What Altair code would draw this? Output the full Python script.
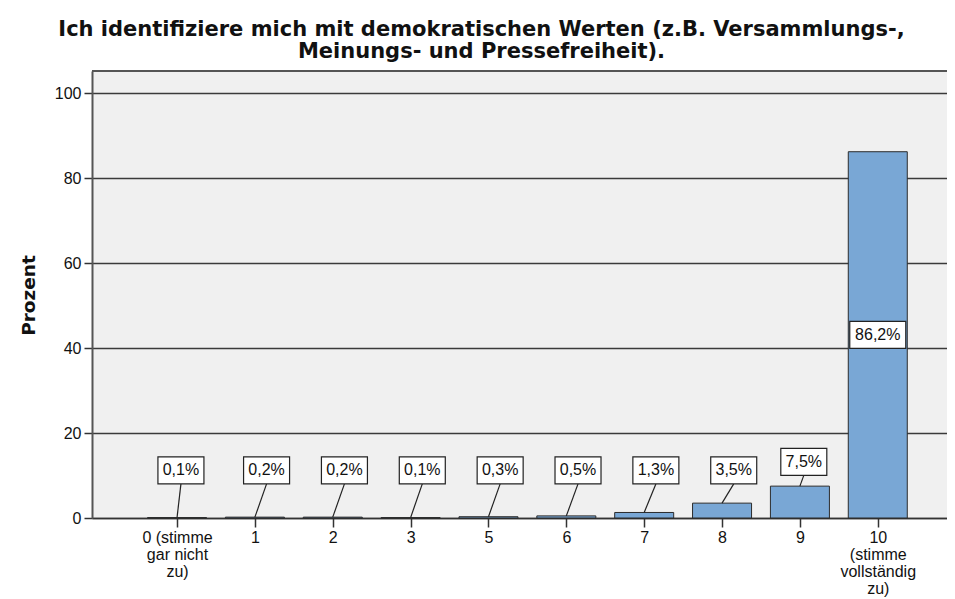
import altair as alt
import pandas as pd

# ---- data ----
categories = ["0 (stimme gar nicht zu)", "1", "2", "3", "5", "6", "7", "8", "9",
              "10 (stimme vollständig zu)"]
axis_label_lines = [["0 (stimme", "gar nicht", "zu)"], ["1"], ["2"], ["3"], ["5"], ["6"],
                    ["7"], ["8"], ["9"], ["10", "(stimme", "vollständig", "zu)"]]
percent = [0.1, 0.2, 0.2, 0.1, 0.3, 0.5, 1.3, 3.5, 7.5, 86.2]
y_ticks = [0, 20, 40, 60, 80, 100]
title_lines = ["Ich identifiziere mich mit demokratischen Werten (z.B. Versammlungs-,",
               "Meinungs- und Pressefreiheit)."]

# ---- table ----
df = pd.DataFrame({"idx": list(range(len(categories))), "cat": categories, "pct": percent})
df["label"] = [f"{v:.1f}".replace(".", ",") + "%" for v in percent]
df["inside"] = df["pct"] > 50
# label placement (SPSS style callouts): inside big bar, above small ones
df["ly"] = [v / 2 if v > 50 else max(11.2, v + 5.7) for v in percent]
df["lx"] = [i + (0.0 if v > 50 else (0.05 if (i == 0 or v > 5) else 0.15))
            for i, v in zip(df["idx"], percent)]
df["nchar"] = df["label"].str.len()

FONT = "Liberation Sans"
BOLD_FONT = "DejaVu Sans"
label_expr = "split([" + ",".join("'" + "|".join(l) + "'" for l in axis_label_lines) + "][datum.value], '|')"

PLOT_W, PLOT_H = 855, 447
xs = alt.Scale(domain=[-1.028, 9.825], nice=False, zero=False)
ys = alt.Scale(domain=[0, 105.2], nice=False, zero=True)

x_axis = alt.Axis(
    values=list(range(len(categories))), labelExpr=label_expr, title=None, grid=False,
    tickSize=9, tickColor="#333", tickWidth=1.5, domainColor="#333", domainWidth=1.5,
    labelFontSize=16, labelFont=FONT, labelColor="#111", labelPadding=2,
    labelLineHeight=17, labelAngle=0, labelOverlap=False, labelFlush=False,
    labelBound=False)
y_axis = alt.Axis(
    values=y_ticks, title="Prozent", titleFont=BOLD_FONT, titleFontSize=18.5,
    titleFontWeight="bold", titleColor="#111", titleX=-64, titleY=224,
    titleAngle=-90, titleBaseline="middle", titleAlign="center",
    grid=True, gridColor="#3a3a3a", gridWidth=1.5,
    tickSize=8, tickColor="#333", tickWidth=1.5, domainColor="#555", domainWidth=2,
    labelFontSize=16, labelFont=FONT, labelColor="#111", labelPadding=3)

base = alt.Chart(df)

frame_top = base.mark_rule(color="#555", strokeWidth=2).encode(
    x=alt.value(0), x2=alt.value(PLOT_W), y=alt.value(0))

bars = base.mark_bar(width=59, orient="vertical", fill="#79a7d5", stroke="#2b2b2b",
                     strokeWidth=1).encode(
    x=alt.X("idx:Q", scale=xs, axis=x_axis),
    y=alt.Y("pct:Q", scale=ys, axis=y_axis),
    y2=alt.datum(0),
)

callouts = base.transform_filter("!datum.inside")

leaders = callouts.mark_rule(color="#222", strokeWidth=1.2, y2Offset=13.5).encode(
    x=alt.X("idx:Q", scale=xs, axis=x_axis),
    y=alt.Y("pct:Q", scale=ys, axis=y_axis),
    x2="lx:Q",
    y2="ly:Q",
)

def boxes(n, half):
    return base.transform_filter(f"datum.nchar == {n}").mark_rect(
        fill="white", stroke="#222", strokeWidth=1.2,
        xOffset=-half, x2Offset=half, yOffset=-13.5, y2Offset=13.5).encode(
        x=alt.X("lx:Q", scale=xs, axis=x_axis),
        x2="lx:Q",
        y=alt.Y("ly:Q", scale=ys, axis=y_axis),
        y2="ly:Q",
    )

texts = base.mark_text(font=FONT, fontSize=16, color="#111", baseline="middle",
                       align="center").encode(
    x=alt.X("lx:Q", scale=xs, axis=x_axis),
    y=alt.Y("ly:Q", scale=ys, axis=y_axis),
    text="label:N",
)

chart = alt.layer(bars, frame_top, leaders, boxes(4, 23), boxes(5, 28), texts).properties(
    width=PLOT_W, height=PLOT_H,
    autosize=alt.AutoSizeParams(type="none"),
    padding={"left": 84, "top": 63, "right": 0, "bottom": 80},
    title=alt.TitleParams(text=title_lines, font=BOLD_FONT, fontSize=21, fontWeight="bold",
                          color="#111", anchor="middle", dx=-38, lineHeight=22, offset=8),
).configure_view(fill="#f0f0f0", stroke=None)

chart.save("out.html", embed_options={"renderer": "svg", "actions": False})
